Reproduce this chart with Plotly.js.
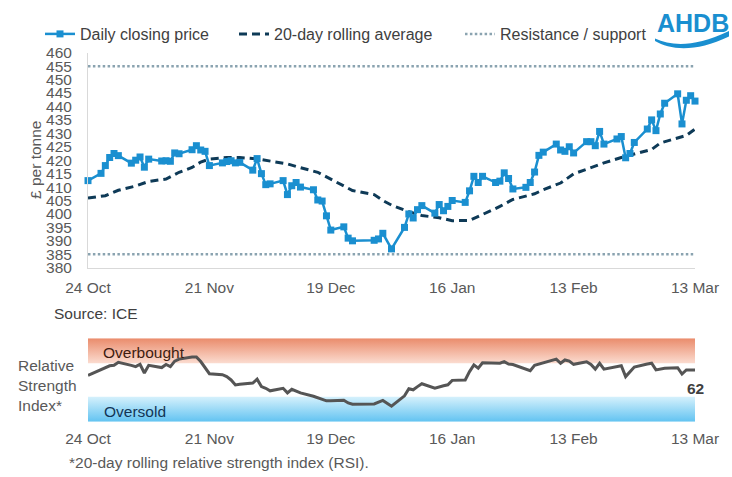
<!DOCTYPE html>
<html><head><meta charset="utf-8">
<script src="https://cdn.plot.ly/plotly-3.0.1.min.js"></script>
<style>html,body{margin:0;padding:0;background:#fff}#chart{width:732px;height:477px}</style>
</head><body><div id="chart"></div>
<script>
// ---- data ----
const dates = [
 '2025-10-24','2025-10-27','2025-10-28','2025-10-29','2025-10-30','2025-10-31',
 '2025-11-03','2025-11-04','2025-11-05','2025-11-06','2025-11-07',
 '2025-11-10','2025-11-11','2025-11-12','2025-11-13','2025-11-14',
 '2025-11-17','2025-11-18','2025-11-19','2025-11-20','2025-11-21',
 '2025-11-24','2025-11-25','2025-11-26','2025-11-27','2025-11-28',
 '2025-12-01','2025-12-02','2025-12-03','2025-12-04','2025-12-05',
 '2025-12-08','2025-12-09','2025-12-10','2025-12-11','2025-12-12',
 '2025-12-15','2025-12-16','2025-12-17','2025-12-18','2025-12-19',
 '2025-12-22','2025-12-23','2025-12-24',
 '2025-12-29','2025-12-30','2025-12-31','2026-01-02',
 '2026-01-05','2026-01-06','2026-01-07','2026-01-08','2026-01-09',
 '2026-01-12','2026-01-13','2026-01-14','2026-01-15','2026-01-16',
 '2026-01-19','2026-01-20','2026-01-21','2026-01-22','2026-01-23',
 '2026-01-26','2026-01-27','2026-01-28','2026-01-29','2026-01-30',
 '2026-02-02','2026-02-03','2026-02-04','2026-02-05','2026-02-06',
 '2026-02-09','2026-02-10','2026-02-11','2026-02-12','2026-02-13',
 '2026-02-16','2026-02-17','2026-02-18','2026-02-19','2026-02-20',
 '2026-02-23','2026-02-24','2026-02-25','2026-02-26','2026-02-27',
 '2026-03-02','2026-03-03','2026-03-04','2026-03-05','2026-03-06',
 '2026-03-09','2026-03-10','2026-03-11','2026-03-12','2026-03-13'
];
const closingPrice = [
 412.4,415.1,418.0,421.0,422.5,421.7,
 418.9,420.0,421.2,417.4,420.4,
 419.7,419.8,419.6,422.7,422.4,
 423.9,425.4,423.8,423.3,418.0,
 419.0,419.5,419.8,419.0,419.2,
 416.3,420.6,415.0,410.9,411.2,
 412.4,407.2,410.5,411.7,410.0,
 409.0,405.2,404.8,399.3,394.0,
 395.2,391.0,390.0,
 390.2,390.7,392.8,387.0,
 395.0,400.0,398.5,401.6,403.1,
 400.3,403.5,401.2,402.8,405.0,
 404.3,408.6,414.0,411.7,414.0,
 411.7,412.2,415.3,413.2,409.3,
 409.9,411.7,415.6,421.8,423.0,
 426.0,423.8,423.3,425.0,422.7,
 426.9,426.9,425.4,430.7,426.0,
 427.9,428.8,420.9,422.5,426.6,
 431.6,435.0,431.0,437.2,441.2,
 444.7,433.5,442.3,444.0,442.0
];
const rsi = [
 55.5,62,64.5,67,67.5,71.2,
 67.5,66,68.8,58.3,67.5,
 64.8,68.5,66,72.5,75,
 77.5,77.5,72,64.5,57.5,
 56.3,54,50,44,44.8,
 46.3,50.9,42,40,37,
 40,34.5,38.8,36.5,34.5,
 30.5,28.5,27,25,25,
 25.8,22.5,21,
 21.3,23,25.5,18.5,
 31,39.5,38.2,42,45.5,
 40.2,42,43,44.2,49.5,
 50,60,68,64,70.5,
 69.8,70,71.9,69.1,68.5,
 63.5,61.1,67.5,69,70.7,
 75,70,73.9,72.5,68.7,
 71.8,68.5,63,69.9,63,
 66.3,67,54,60,65.5,
 69,70,62,63,64,
 64.7,57.1,62,62,62
];
const maDates = [
 '2025-10-24','2025-10-28','2025-10-31','2025-11-04','2025-11-07','2025-11-11',
 '2025-11-14','2025-11-17','2025-11-19','2025-11-21','2025-11-25','2025-11-28',
 '2025-12-02','2025-12-05','2025-12-09','2025-12-12','2025-12-16','2025-12-18',
 '2025-12-19','2025-12-23','2025-12-24','2025-12-29','2025-12-31','2026-01-02',
 '2026-01-06','2026-01-09','2026-01-13','2026-01-16','2026-01-20','2026-01-23',
 '2026-01-27','2026-01-30','2026-02-04','2026-02-06','2026-02-10','2026-02-13',
 '2026-02-17','2026-02-20','2026-02-24','2026-02-27','2026-03-03','2026-03-05',
 '2026-03-09','2026-03-11','2026-03-13'
];
const rollingAverage = [
 405.9,406.8,408.8,410.4,412.1,413.0,
 415.5,417.3,419.3,420.4,421.0,421.0,
 420.5,419.8,418.6,417.2,415.5,413.8,
 413.0,409.8,408.7,407.2,405.0,403.3,
 400.8,399.4,398.6,397.5,397.6,399.8,
 402.8,405.4,407.5,409.0,411.5,414.9,
 417.2,419.0,421.0,422.2,424.0,426.4,
 428.2,429.2,431.6
];
const resistanceLevel = 455;
const supportLevel = 385;
const overboughtBand = [70, 100];
const oversoldBand = [0, 30];
const seriesNames = ['Daily closing price', '20-day rolling average', 'Resistance / support'];
const priceAxisRange = [380, 460];
const priceTickStep = 5;
const xTickStart = '2025-10-24';
const xTickStepDays = 28;

// ---- helpers for placing text in the page (pixel -> paper) ----
const PL = 88, PR = 695, H = 477;
const px = x => (x - PL) / (PR - PL);
const py = y => 1 - y / H;

const first = dates[0], last = dates[dates.length - 1];
const FONT = '"Liberation Sans", Arial, Helvetica, sans-serif';
const BLUE = '#1a8fd0';

const traces = [
 {x:[first,last], y:[resistanceLevel,resistanceLevel], mode:'lines', name:seriesNames[2], legend:'legend3',
  line:{color:'#8aa3b0', width:2.5, dash:'2.5px,2.4px'}, hoverinfo:'skip'},
 {x:[first,last], y:[supportLevel,supportLevel], mode:'lines', showlegend:false,
  line:{color:'#8aa3b0', width:2.5, dash:'2.5px,2.4px'}, hoverinfo:'skip'},
 {x:maDates, y:rollingAverage, mode:'lines', name:seriesNames[1], legend:'legend2',
  line:{color:'#0e3a57', width:3, dash:'8px,5px'}},
 {x:dates, y:closingPrice, mode:'lines+markers', name:seriesNames[0], legend:'legend',
  line:{color:BLUE, width:2.5}, marker:{symbol:'square', size:7, color:BLUE}, cliponaxis:false},
 {x:[first,last,last,first], y:[overboughtBand[0],overboughtBand[0],overboughtBand[1],overboughtBand[1]],
  xaxis:'x2', yaxis:'y2', mode:'none', fill:'toself', showlegend:false, hoverinfo:'skip',
  fillcolor:'#f3b49c',
  fillgradient:{type:'vertical', colorscale:[[0,'#fbdcd0'],[1,'#ea8b6b']]}},
 {x:[first,last,last,first], y:[oversoldBand[0],oversoldBand[0],oversoldBand[1],oversoldBand[1]],
  xaxis:'x2', yaxis:'y2', mode:'none', fill:'toself', showlegend:false, hoverinfo:'skip',
  fillcolor:'#9cd8f5',
  fillgradient:{type:'vertical', colorscale:[[0,'#62c3f1'],[1,'#d6f1fc']]}},
 {x:dates, y:rsi, xaxis:'x2', yaxis:'y2', mode:'lines', showlegend:false,
  line:{color:'#555555', width:3}}
];

const xCommon = {
 type:'date', range:[first,last], domain:[0,1], tick0:xTickStart, dtick:xTickStepDays*86400000,
 tickformat:'%-d %b', showgrid:false, zeroline:false, ticks:'', ticklabelstandoff:6,
 tickfont:{size:15.5, color:'#595959'}
};

const legendCommon = {orientation:'h', xanchor:'left', yanchor:'middle', y:py(34),
 bgcolor:'rgba(0,0,0,0)', font:{size:16, color:'#404040', family:FONT}, borderwidth:0};

// logo swoosh path (decoration)
const sw = [[655,38.5],[672,46],[694,47.5],[729,31],[729,36.5],[697,52],[671,50.5],[655,41]];
const P = p => px(p[0]).toFixed(5) + ',' + py(p[1]).toFixed(5);
const swPath = 'M' + P(sw[0]) + ' C' + P(sw[1]) + ' ' + P(sw[2]) + ' ' + P(sw[3]) +
 ' L' + P(sw[4]) + ' C' + P(sw[5]) + ' ' + P(sw[6]) + ' ' + P(sw[7]) + ' Z';

const layout = {
 width:732, height:477, margin:{l:PL, r:732-PR, t:0, b:0},
 paper_bgcolor:'#ffffff', plot_bgcolor:'rgba(0,0,0,0)',
 font:{family:FONT, size:15.5, color:'#595959'},
 showlegend:true, hovermode:false,
 xaxis:Object.assign({}, xCommon, {anchor:'y', showline:true, linecolor:'#d9d9d9', linewidth:1}),
 xaxis2:Object.assign({}, xCommon, {anchor:'y2', showline:false}),
 yaxis:{domain:[py(267.7), py(52.7)], range:priceAxisRange, tick0:priceAxisRange[0], dtick:priceTickStep,
  showline:true, linecolor:'#d9d9d9', linewidth:1, showgrid:false, zeroline:false, ticks:'',
  ticklabelstandoff:12, tickfont:{size:15.5, color:'#595959'}},
 yaxis2:{domain:[py(421.7), py(338.2)], range:[0,100], visible:false, fixedrange:true},
 legend:Object.assign({}, legendCommon, {x:px(40)}),
 legend2:Object.assign({}, legendCommon, {x:px(234)}),
 legend3:Object.assign({}, legendCommon, {x:px(460)}),
 shapes:[{type:'path', xref:'paper', yref:'paper', path:swPath, fillcolor:BLUE, line:{width:0}}],
 annotations:[
  {text:'£ per tonne', textangle:-90, xref:'paper', yref:'paper', x:px(35), y:py(160),
   showarrow:false, xanchor:'center', yanchor:'middle', font:{size:15.5, color:'#595959'}},
  {text:'Source: ICE', xref:'paper', yref:'paper', x:px(52), y:py(313), showarrow:false,
   xanchor:'left', yanchor:'middle', font:{size:15.5, color:'#404040'}},
  {text:'Relative<br>Strength<br>Index*', xref:'paper', yref:'paper', x:px(16), y:py(385), align:'left',
   showarrow:false, xanchor:'left', yanchor:'middle', font:{size:15.5, color:'#595959'}},
  {text:'Overbought', xref:'paper', yref:'paper', x:px(101), y:py(352), showarrow:false,
   xanchor:'left', yanchor:'middle', font:{size:15.5, color:'#3d1c10'}},
  {text:'Oversold', xref:'paper', yref:'paper', x:px(102), y:py(411), showarrow:false,
   xanchor:'left', yanchor:'middle', font:{size:15.5, color:'#123555'}},
  {text:'<b>' + Math.round(rsi[rsi.length-1]) + '</b>', xref:'x2', yref:'y2', x:last, y:rsi[rsi.length-1],
   yshift:-19, showarrow:false, xanchor:'center', yanchor:'middle', font:{size:15.5, color:'#404040'}},
  {text:'*20-day rolling relative strength index (RSI).', xref:'paper', yref:'paper', x:px(67), y:py(462),
   showarrow:false, xanchor:'left', yanchor:'middle', font:{size:15.5, color:'#595959'}},
  {text:'<b>AHDB</b>', xref:'paper', yref:'paper', x:px(692.5), y:py(23), showarrow:false,
   xanchor:'center', yanchor:'middle', font:{size:25, color:BLUE}}
 ]
};

Plotly.newPlot('chart', traces, layout, {staticPlot:true, displayModeBar:false});
</script></body></html>
